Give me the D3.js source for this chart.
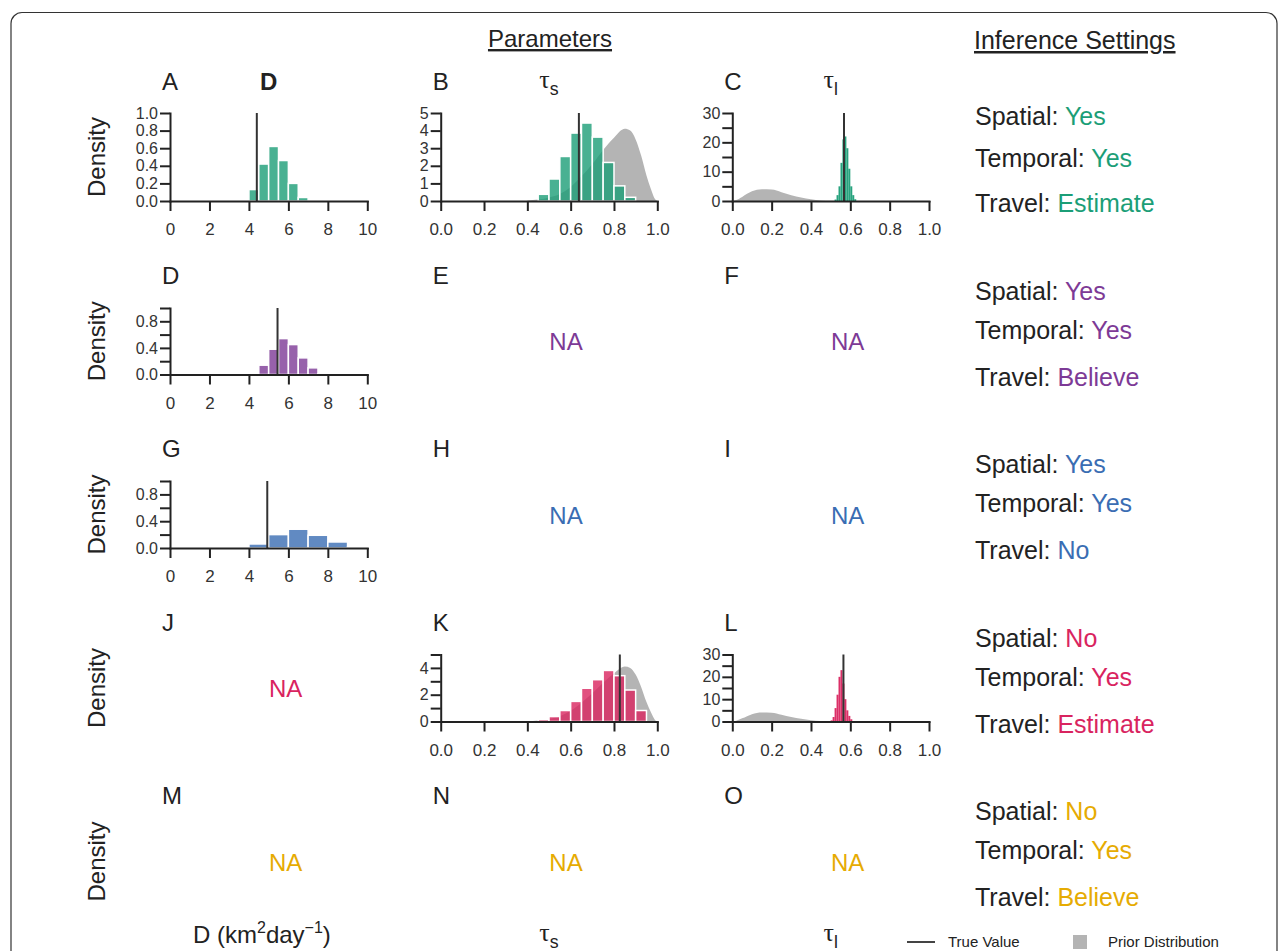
<!DOCTYPE html>
<html>
<head>
<meta charset="utf-8">
<script src="https://cdn.jsdelivr.net/npm/d3@7"></script>
<style>
	body { margin: 0; background: #fff; }
	svg text { font-family: "Liberation Sans", Arial, sans-serif; fill: #222; }
	.axis path, .axis line { stroke: #222; stroke-width: 2; }
	.axis text { font-size: 17px; fill: #333; }
	.axis.y text { font-size: 16px; }
</style>
</head>
<body>
<div id="chart"></div>
<script>
// histogram bin edges and densities
const dBinsA = [4, 4.5, 5, 5.5, 6, 6.5, 7];
const dDensA = [0.13, 0.42, 0.62, 0.46, 0.2, 0.04];
const tauSBinsB = [0.45, 0.5, 0.55, 0.6, 0.65, 0.7, 0.75, 0.8, 0.85, 0.9];
const tauSDensB = [0.38, 1.25, 2.53, 3.86, 4.43, 3.63, 2.19, 0.86, 0.21];
const tauLBinsC = [0.52, 0.53, 0.54, 0.55, 0.56, 0.57, 0.58, 0.59, 0.6, 0.61, 0.62, 0.63];
const tauLDensC = [0.5, 2, 5, 13, 21, 22, 18, 11, 5, 2, 0.6];
const dBinsD = [4.5, 5, 5.5, 6, 6.5, 7, 7.5, 8];
const dDensD = [0.14, 0.38, 0.54, 0.45, 0.25, 0.1, 0.01];
const dBinsG = [4, 5, 6, 7, 8, 9, 10];
const dDensG = [0.06, 0.2, 0.28, 0.19, 0.09, 0.015];
const tauSBinsK = [0.45, 0.5, 0.55, 0.6, 0.65, 0.7, 0.75, 0.8, 0.85, 0.9, 0.95];
const tauSDensK = [0.15, 0.37, 0.82, 1.5, 2.48, 3.12, 3.81, 3.42, 2.35, 0.82];
const tauLBinsL = [0.5, 0.51, 0.52, 0.53, 0.54, 0.55, 0.56, 0.57, 0.58, 0.59, 0.6, 0.61];
const tauLDensL = [0.5, 2, 6, 12, 20, 23, 17, 10, 5, 2.5, 1];

// true values
const trueA = 4.4, trueB = 0.638, trueC = 0.568;
const trueD = 5.45, trueG = 4.93;
const trueK = 0.827, trueL = 0.565;

// prior densities
const priorTauSX = [0.4, 0.45, 0.5, 0.55, 0.6, 0.65, 0.7, 0.75, 0.8, 0.85, 0.875, 0.9, 0.925, 0.95, 0.97, 0.99, 1.0];
const priorTauSY = [0.03, 0.08, 0.2, 0.4, 0.8, 1.4, 2.1, 2.9, 3.6, 4.1, 4.0, 3.5, 2.6, 1.45, 0.7, 0.1, 0];
const priorTauLX = [0, 0.02, 0.05, 0.1, 0.15, 0.2, 0.25, 0.3, 0.35, 0.4, 0.45, 0.5, 0.55];
const priorTauLY = [0, 0.3, 1.4, 3.3, 4.0, 3.9, 3.0, 2.0, 1.2, 0.6, 0.2, 0.05, 0];

// ticks
const dXTicks = [0, 2, 4, 6, 8, 10];
const tauXTicks = [0, 0.2, 0.4, 0.6, 0.8, 1.0];
const dYTicks = [0, 0.2, 0.4, 0.6, 0.8, 1.0];
const dYLabelsShort = [0, 0.4, 0.8];
const tauSYTicks = [0, 1, 2, 3, 4, 5];
const tauSYLabelsShort = [0, 2, 4];
const tauLYTicks = [0, 5, 10, 15, 20, 25, 30];
const tauLYLabels = [0, 10, 20, 30];

// rows
const rowColors = ["#1b9e77", "#7d3a96", "#3a6db3", "#d9245f", "#e6ab02"];
const panelLetters = [["A", "B", "C"], ["D", "E", "F"], ["G", "H", "I"], ["J", "K", "L"], ["M", "N", "O"]];
const spatialVals = ["Yes", "Yes", "Yes", "No", "No"];
const temporalVals = ["Yes", "Yes", "Yes", "Yes", "Yes"];
const travelVals = ["Estimate", "Believe", "No", "Estimate", "Believe"];

const width = 1287, height = 951;
const rowTop = [113, 308, 481, 654.5, 828];
const rowBottom = [201, 374.5, 548, 721.5, 895];
const colX = [[170, 367.3], [440.7, 657.3], [732.3, 929]];

const svg = d3.select("#chart").append("svg")
	.attr("width", width)
	.attr("height", height);

// frame
svg.append("rect")
	.attr("x", 11).attr("y", 12.5)
	.attr("width", 1266).attr("height", 1000)
	.attr("rx", 11)
	.attr("fill", "none")
	.attr("stroke", "#333")
	.attr("stroke-width", 1.2);

// headers
svg.append("text")
	.attr("x", 550).attr("y", 47)
	.attr("text-anchor", "middle")
	.attr("font-size", 24)
	.attr("text-decoration", "underline")
	.text("Parameters");
svg.append("text")
	.attr("x", 974).attr("y", 49)
	.attr("font-size", 25)
	.attr("text-decoration", "underline")
	.text("Inference Settings");

// column titles
svg.append("text")
	.attr("x", (colX[0][0] + colX[0][1]) / 2).attr("y", 90)
	.attr("text-anchor", "middle")
	.attr("font-size", 24).attr("font-weight", "bold")
	.text("D");

function tauLabel(x, y, sub, size) {
	const t = svg.append("text")
		.attr("x", x).attr("y", y)
		.attr("text-anchor", "middle");
	t.append("tspan")
		.style("font-family", "'Liberation Serif', 'Times New Roman', serif")
		.attr("font-size", size)
		.text("τ");
	t.append("tspan")
		.attr("font-size", size * 0.68)
		.attr("dy", size * 0.28)
		.text(sub);
}
tauLabel((colX[1][0] + colX[1][1]) / 2, 88, "s", 26);
tauLabel((colX[2][0] + colX[2][1]) / 2, 88, "l", 26);

// draw one histogram panel
function drawPanel(row, col, opt) {
	const top = rowTop[row], bottom = rowBottom[row];
	const x = d3.scaleLinear().domain(opt.xDomain).range(colX[col]);
	const y = d3.scaleLinear().domain([0, opt.yMax]).range([bottom, top]);
	const g = svg.append("g");

	if (opt.priorX) {
		const pts = opt.priorX.map((v, i) => [v, opt.priorY[i]]);
		const area = d3.area()
			.x((d) => x(d[0]))
			.y0(y(0))
			.y1((d) => y(d[1]))
			.curve(d3.curveMonotoneX);
		g.append("path")
			.datum(pts)
			.attr("d", area)
			.attr("fill", "#b4b4b4");
	}

	const bins = opt.dens.map((v, i) => ({ x0: opt.bins[i], x1: opt.bins[i + 1], v: v }));
	const narrow = x(opt.bins[1]) - x(opt.bins[0]) < 6;
	g.selectAll("rect.bar")
		.data(bins)
		.enter()
		.append("rect")
		.attr("class", "bar")
		.attr("x", (d) => x(d.x0))
		.attr("y", (d) => y(d.v))
		.attr("width", (d) => x(d.x1) - x(d.x0))
		.attr("height", (d) => y(0) - y(d.v))
		.attr("fill", rowColors[row])
		.attr("fill-opacity", narrow ? 0.95 : 0.8)
		.attr("stroke", narrow ? "none" : "#fff")
		.attr("stroke-width", 1.5);

	// true value
	g.append("line")
		.attr("x1", x(opt.trueVal)).attr("x2", x(opt.trueVal))
		.attr("y1", y(0)).attr("y2", y(opt.yMax))
		.attr("stroke", "#333")
		.attr("stroke-width", 2);

	const xAxis = d3.axisBottom(x)
		.tickValues(opt.xTicks)
		.tickSize(10)
		.tickSizeOuter(0)
		.tickPadding(12)
		.tickFormat(opt.xFormat);
	g.append("g")
		.attr("class", "axis x")
		.attr("transform", `translate(0, ${bottom})`)
		.call(xAxis);

	const yAxis = d3.axisLeft(y)
		.tickValues(opt.yTicks)
		.tickSize(10)
		.tickSizeOuter(0)
		.tickPadding(2)
		.tickFormat((d) => (opt.yLabels.includes(d) ? opt.yFormat(d) : ""));
	g.append("g")
		.attr("class", "axis y")
		.attr("transform", `translate(${colX[col][0]}, 0)`)
		.call(yAxis);
	g.selectAll(".axis path").attr("stroke-linecap", "square");
}

const fmtInt = d3.format("d");
const fmt1 = d3.format(".1f");

drawPanel(0, 0, { xDomain: [0, 10], yMax: 1, bins: dBinsA, dens: dDensA, trueVal: trueA,
	xTicks: dXTicks, xFormat: fmtInt, yTicks: dYTicks, yLabels: dYTicks, yFormat: fmt1 });
drawPanel(0, 1, { xDomain: [0, 1], yMax: 5, bins: tauSBinsB, dens: tauSDensB, trueVal: trueB,
	priorX: priorTauSX, priorY: priorTauSY,
	xTicks: tauXTicks, xFormat: fmt1, yTicks: tauSYTicks, yLabels: tauSYTicks, yFormat: fmtInt });
drawPanel(0, 2, { xDomain: [0, 1], yMax: 30, bins: tauLBinsC, dens: tauLDensC, trueVal: trueC,
	priorX: priorTauLX, priorY: priorTauLY,
	xTicks: tauXTicks, xFormat: fmt1, yTicks: tauLYTicks, yLabels: tauLYLabels, yFormat: fmtInt });
drawPanel(1, 0, { xDomain: [0, 10], yMax: 1, bins: dBinsD, dens: dDensD, trueVal: trueD,
	xTicks: dXTicks, xFormat: fmtInt, yTicks: dYTicks, yLabels: dYLabelsShort, yFormat: fmt1 });
drawPanel(2, 0, { xDomain: [0, 10], yMax: 1, bins: dBinsG, dens: dDensG, trueVal: trueG,
	xTicks: dXTicks, xFormat: fmtInt, yTicks: dYTicks, yLabels: dYLabelsShort, yFormat: fmt1 });
drawPanel(3, 1, { xDomain: [0, 1], yMax: 5, bins: tauSBinsK, dens: tauSDensK, trueVal: trueK,
	priorX: priorTauSX, priorY: priorTauSY,
	xTicks: tauXTicks, xFormat: fmt1, yTicks: tauSYTicks, yLabels: tauSYLabelsShort, yFormat: fmtInt });
drawPanel(3, 2, { xDomain: [0, 1], yMax: 30, bins: tauLBinsL, dens: tauLDensL, trueVal: trueL,
	priorX: priorTauLX, priorY: priorTauLY,
	xTicks: tauXTicks, xFormat: fmt1, yTicks: tauLYTicks, yLabels: tauLYLabels, yFormat: fmtInt });

// NA cells
const hasPlot = [[true, true, true], [true, false, false], [true, false, false], [false, true, true], [false, false, false]];

panelLetters.forEach((letters, r) => {
	const letterY = r === 0 ? 90 : rowTop[r] - 24;
	letters.forEach((L, c) => {
		svg.append("text")
			.attr("x", colX[c][0] - 8).attr("y", letterY)
			.attr("font-size", 24)
			.text(L);
		if (!hasPlot[r][c]) {
			svg.append("text")
				.attr("x", (colX[c][0] + colX[c][1]) / 2 + 17)
				.attr("y", (rowTop[r] + rowBottom[r]) / 2 + 9)
				.attr("text-anchor", "middle")
				.attr("font-size", 24)
				.style("fill", rowColors[r])
				.text("NA");
		}
	});
	// density label
	svg.append("text")
		.attr("transform", `translate(105, ${(rowTop[r] + rowBottom[r]) / 2}) rotate(-90)`)
		.attr("text-anchor", "middle")
		.attr("font-size", 24)
		.text("Density");

	// settings
	const base = r === 0 ? [125, 166.7, 211.7] : [rowTop[r] - 8, rowTop[r] + 31, rowTop[r] + 78];
	const pairs = [["Spatial: ", spatialVals[r]], ["Temporal: ", temporalVals[r]], ["Travel: ", travelVals[r]]];
	pairs.forEach((p, i) => {
		const t = svg.append("text")
			.attr("x", 975).attr("y", base[i])
			.attr("font-size", 25);
		t.append("tspan").text(p[0]);
		t.append("tspan").style("fill", rowColors[r]).text(p[1]);
	});
});

// bottom axis titles
const dTitle = svg.append("text")
	.attr("x", 193).attr("y", 943)
	.attr("font-size", 24);
dTitle.append("tspan").text("D (km");
dTitle.append("tspan").attr("font-size", 16).attr("dy", -10).text("2");
dTitle.append("tspan").attr("dy", 10).text("day");
dTitle.append("tspan").attr("font-size", 16).attr("dy", -10).text("−1");
dTitle.append("tspan").attr("dy", 10).text(")");
tauLabel((colX[1][0] + colX[1][1]) / 2, 941, "s", 26);
tauLabel((colX[2][0] + colX[2][1]) / 2, 941, "l", 26);

// legend
svg.append("line")
	.attr("x1", 907).attr("x2", 935)
	.attr("y1", 942).attr("y2", 942)
	.attr("stroke", "#444").attr("stroke-width", 2);
svg.append("text")
	.attr("x", 948).attr("y", 947)
	.attr("font-size", 15)
	.text("True Value");
svg.append("rect")
	.attr("x", 1073).attr("y", 935)
	.attr("width", 14).attr("height", 14)
	.attr("fill", "#b4b4b4");
svg.append("text")
	.attr("x", 1108).attr("y", 947)
	.attr("font-size", 15)
	.text("Prior Distribution");
</script>
</body>
</html>
